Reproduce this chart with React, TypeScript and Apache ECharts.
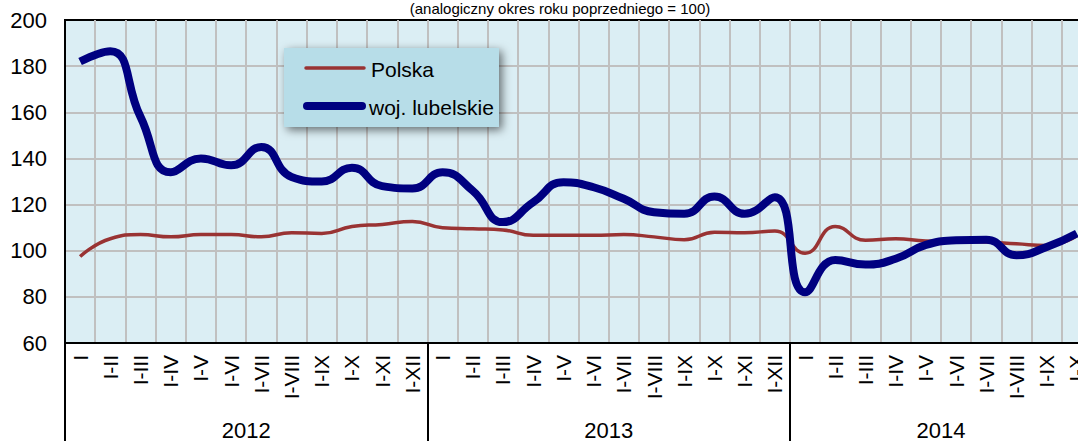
import React, { useEffect, useRef } from 'react';
import * as echarts from 'echarts';

const FONT = "'Liberation Sans Narrow', 'Arial Narrow', 'Liberation Sans', Arial, sans-serif";

const months = ['I', 'I-II', 'I-III', 'I-IV', 'I-V', 'I-VI', 'I-VII', 'I-VIII', 'I-IX', 'I-X', 'I-XI', 'I-XII'];
const categories = [...months, ...months, ...months.slice(0, 10)];
const years = ['2012', '2013', '2014'];
const yearBounds = [0, 12, 24, 34];
const yearMids = [6, 18, 29];
const yTicks = { min: 60, max: 200, step: 20 };

const seriesNames = ['Polska', 'woj. lubelskie'];
const polska = [
  97.5, 105.2, 107, 106, 107, 107, 106, 107.8, 107.5, 110.5, 111.4, 112.7,
  110, 109.5, 109, 106.7, 106.7, 106.7, 107, 106, 104.8, 108, 107.8, 108.5,
  98.9, 110.5, 104.5, 105.2, 104.2, 104, 103.8, 103, 102.3, 106.5,
];
const lubelskie = [
  182, 186.5, 158, 134, 140, 137, 145, 132, 130, 136, 128, 127,
  134, 126, 112.4, 121, 129.7, 127.5, 122.5, 116.7, 116, 123.5, 116, 123.2,
  82, 96, 94, 96.5, 102.5, 104.5, 104.8, 98, 101.6, 107.5,
];
const TITLE = '(analogiczny okres roku poprzedniego = 100)';

export default function App() {
  const ref = useRef<HTMLDivElement>(null);
  useEffect(() => {
    document.body.style.margin = '0';
    if (!ref.current) return;
    const chart = echarts.init(ref.current, undefined, { renderer: 'svg' });
    const option: any = {
      animation: false,
      backgroundColor: '#ffffff',
      textStyle: { fontFamily: FONT },
      grid: {
        left: 65,
        top: 20,
        width: 1027,
        height: 323,
        outerBoundsMode: 'none',
        containLabel: false,
        show: true,
        backgroundColor: '#DBEEF4',
        borderColor: '#000',
        borderWidth: 2,
      },
      xAxis: [
        {
          type: 'category',
          data: categories,
          boundaryGap: true,
          axisLine: { lineStyle: { color: '#000', width: 2 } },
          axisTick: { show: false },
          axisLabel: { interval: 0, rotate: 90, fontSize: 21, color: '#000', margin: 12, fontFamily: FONT },
          splitLine: { show: true, interval: 0, showMinLine: false, lineStyle: { color: '#C0C0C0', width: 2 } },
          z: 3,
        },
        {
          type: 'value',
          min: 0,
          max: 34,
          position: 'bottom',
          axisLine: { show: false },
          axisTick: { show: true, customValues: yearBounds, length: 110, lineStyle: { color: '#000', width: 2 } },
          axisLabel: {
            customValues: yearMids,
            formatter: (v: number) => years[yearMids.indexOf(v)] ?? '',
            margin: 76,
            fontSize: 22,
            color: '#000',
            fontFamily: FONT,
          },
          splitLine: { show: false },
        },
      ],
      yAxis: {
        type: 'value',
        min: yTicks.min,
        max: yTicks.max,
        interval: yTicks.step,
        axisLine: { show: true, lineStyle: { color: '#000', width: 2 } },
        axisTick: { show: false },
        axisLabel: { fontSize: 22, color: '#000', margin: 18, fontFamily: FONT },
        splitLine: { show: true, showMinLine: false, showMaxLine: false, lineStyle: { color: '#C0C0C0', width: 2 } },
        z: 3,
      },
      series: [
        {
          name: seriesNames[0],
          type: 'line',
          data: polska,
          smooth: 0.5,
          symbol: 'none',
          lineStyle: { color: '#993333', width: 3.5 },
          itemStyle: { color: '#993333' },
          z: 4,
        },
        {
          name: seriesNames[1],
          type: 'line',
          data: lubelskie,
          smooth: 0.5,
          symbol: 'none',
          lineStyle: { color: '#000080', width: 8 },
          itemStyle: { color: '#000080' },
          z: 5,
        },
      ],
      graphic: [
        {
          type: 'text',
          x: 560,
          y: 1,
          z: 10,
          style: {
            text: TITLE,
            fontSize: 15,
            fontFamily: FONT,
            fill: '#000',
            align: 'center',
            verticalAlign: 'top',
            textAlign: 'center',
            textVerticalAlign: 'top',
          },
        },
        {
          type: 'rect',
          z: 10,
          shape: { x: 284, y: 48, width: 215, height: 79 },
          style: {
            fill: '#B7DDE8',
            shadowBlur: 10,
            shadowColor: 'rgba(0,0,0,0.55)',
            shadowOffsetX: 3,
            shadowOffsetY: 3,
          },
        },
        {
          type: 'line',
          z: 11,
          shape: { x1: 306, y1: 68, x2: 364, y2: 68 },
          style: { stroke: '#993333', lineWidth: 3.5, lineCap: 'round' },
        },
        {
          type: 'line',
          z: 11,
          shape: { x1: 307, y1: 106, x2: 362, y2: 106 },
          style: { stroke: '#000080', lineWidth: 8, lineCap: 'round' },
        },
        {
          type: 'text',
          x: 371,
          y: 69,
          z: 11,
          style: {
            text: seriesNames[0],
            fontSize: 21,
            fontFamily: FONT,
            fill: '#000',
            align: 'left',
            verticalAlign: 'middle',
            textAlign: 'left',
            textVerticalAlign: 'middle',
          },
        },
        {
          type: 'text',
          x: 369,
          y: 107,
          z: 11,
          style: {
            text: seriesNames[1],
            fontSize: 21,
            fontFamily: FONT,
            fill: '#000',
            align: 'left',
            verticalAlign: 'middle',
            textAlign: 'left',
            textVerticalAlign: 'middle',
          },
        },
      ],
    };
    chart.setOption(option);
    return () => chart.dispose();
  }, []);
  return <div ref={ref} style={{ width: 1078, height: 441, overflow: 'hidden' }} />;
}
